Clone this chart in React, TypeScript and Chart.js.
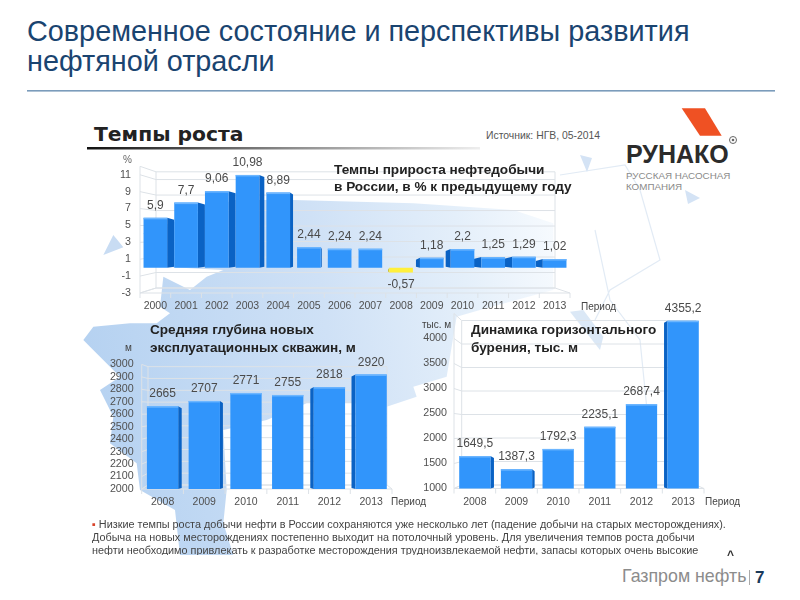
import React, { useEffect, useRef } from "react";
import { Chart, registerables } from "chart.js";

Chart.register(...registerables);

const growthYears = ["2000","2001","2002","2003","2004","2005","2006","2007","2008","2009","2010","2011","2012","2013"];
const growthValues = [5.9,7.7,9.06,10.98,8.89,2.44,2.24,2.24,-0.57,1.18,2.2,1.25,1.29,1.02];
const growthTicks = [-3,-1,1,3,5,7,9,11];
const depthYears = ["2008","2009","2010","2011","2012","2013"];
const depthValues = [2665,2707,2771,2755,2818,2920];
const depthTicks = [2000,2100,2200,2300,2400,2500,2600,2700,2800,2900,3000];
const horizontalYears = ["2008","2009","2010","2011","2012","2013"];
const horizontalValues = [1649.5,1387.3,1792.3,2235.1,2687.4,4355.2];
const horizontalTicks = [1000,1500,2000,2500,3000,3500,4000];

const growthSides = [7,7,7,5,3,1,0,0,-1,-4,-5,-8,-8,-7];
const depthSides = [3.5,3,0,0,-3.5,-4];
const horizontalSides = [3.5,2.5,0,0,0,-3.5];

const FONT = "'Liberation Sans', Arial, sans-serif";
const GRID = "#dde2e7";

type Cfg = {
  sides: number[]; backLeft: number; backRight: number; backBottom: number; k: number; labelGap: number;
};

function make3d(cfg: Cfg) {
  return {
    id: "pseudo3d",
    beforeDatasetsDraw(chart: any) {
      const ctx = chart.ctx;
      const { left, right, bottom } = chart.chartArea;
      const y = chart.scales.y;
      const ox = chart.canvas.offsetLeft || 0;
      const oy = chart.canvas.offsetTop || 0;
      const backBottom = cfg.backBottom - oy;
      const back = (p: number) => backBottom + (p - bottom) * cfg.k;
      ctx.save();
      ctx.strokeStyle = GRID;
      ctx.lineWidth = 1;
      const vals = y.ticks.map((t: any) => t.value);
      if (!vals.includes(y.max)) vals.push(y.max);
      vals.forEach((v: number) => {
        const p = y.getPixelForValue(v);
        ctx.beginPath();
        ctx.moveTo(left, p);
        ctx.lineTo(cfg.backLeft - ox, back(p));
        ctx.lineTo(cfg.backRight - ox, back(p));
        ctx.stroke();
      });
      const topP = y.getPixelForValue(y.max);
      ctx.beginPath();
      ctx.moveTo(left, topP);
      ctx.lineTo(left, bottom);
      ctx.lineTo(right, bottom);
      ctx.lineTo(cfg.backRight - ox, backBottom);
      ctx.lineTo(cfg.backRight - ox, back(topP));
      ctx.moveTo(cfg.backLeft - ox, backBottom);
      ctx.lineTo(cfg.backLeft - ox, back(topP));
      ctx.moveTo(left, bottom);
      ctx.lineTo(cfg.backLeft - ox, backBottom);
      ctx.lineTo(cfg.backRight - ox, backBottom);
      ctx.stroke();
      const xs = chart.scales.x;
      const step = (right - left) / xs.ticks.length;
      for (let i = 0; i <= xs.ticks.length; i++) {
        ctx.beginPath();
        ctx.moveTo(left + step * i, bottom);
        ctx.lineTo(left + step * i, bottom + 5);
        ctx.stroke();
      }
      const meta = chart.getDatasetMeta(0);
      meta.data.forEach((el: any, i: number) => {
        const d = cfg.sides[i];
        if (!d) return;
        const hw = el.width / 2;
        const edge = d > 0 ? el.x + hw : el.x - hw;
        const elBase = Math.min(el.base, bottom);
        const top = Math.min(el.y, elBase);
        const base = Math.max(el.y, elBase);
        const neg = el.y > elBase;
        ctx.fillStyle = neg ? "#c9b800" : "#0a62c4";
        ctx.beginPath();
        ctx.moveTo(edge, top);
        ctx.lineTo(edge + d, top + 2);
        ctx.lineTo(edge + d, base - 1);
        ctx.lineTo(edge, base);
        ctx.closePath();
        ctx.fill();
      });
      ctx.restore();
    },
    afterDatasetsDraw(chart: any) {
      const ctx = chart.ctx;
      const meta = chart.getDatasetMeta(0);
      const values = chart.data.datasets[0].data;
      ctx.save();
      ctx.font = "12px " + FONT;
      ctx.textAlign = "center";
      ctx.textBaseline = "middle";
      meta.data.forEach((el: any, i: number) => {
        const v = values[i];
        const neg = v < 0;
        if (!neg) {
          ctx.fillStyle = "#6db6ff";
          ctx.fillRect(el.x - el.width / 2, el.y, el.width, 1.5);
        }
        ctx.fillStyle = "#4a4a4a";
        ctx.fillText(String(v).replace(".", ","), el.x, neg ? el.y + cfg.labelGap : el.y - cfg.labelGap);
      });
      ctx.restore();
    },
  };
}

function makeChart(
  canvas: HTMLCanvasElement, labels: string[], values: number[], tickValues: number[], cfg: Cfg,
  o: { min: number; max: number; yWidth: number; xHeight: number; padTop: number; ratio: number; yPad: number }
) {
  return new Chart(canvas, {
    type: "bar",
    data: {
      labels,
      datasets: [{
        data: values,
        backgroundColor: values.map((v) => (v < 0 ? "#fff03c" : "#3195fb")),
        barPercentage: o.ratio,
        categoryPercentage: 1,
      }],
    },
    plugins: [make3d(cfg)],
    options: {
      animation: false,
      responsive: false,
      layout: { padding: { top: o.padTop, right: 10, left: 0, bottom: 0 } },
      plugins: { legend: { display: false }, title: { display: false }, tooltip: { enabled: false } },
      scales: {
        x: {
          grid: { display: false, drawTicks: false },
          border: { display: false },
          ticks: { color: "#505050", font: { size: 10.5, family: FONT }, padding: 7, maxRotation: 0, autoSkip: false },
          afterFit(s: any) { s.height = o.xHeight; },
        },
        y: {
          min: o.min,
          max: o.max,
          grid: { display: false, drawTicks: false },
          border: { display: false },
          ticks: {
            color: "#505050",
            padding: o.yPad,
            autoSkip: false,
            font: { size: 10.7, family: FONT },
            callback: (v: any) => String(v),
          },
          afterBuildTicks(s: any) { s.ticks = tickValues.map((value) => ({ value })); },
          afterFit(s: any) { s.width = o.yWidth; },
        },
      },
    } as any,
  });
}

function T(p: { x: number; y: number; s: number; c?: string; b?: boolean; f?: string; children: React.ReactNode }) {
  return (
    <div style={{
      position: "absolute", left: p.x, top: p.y, transform: "translateY(-50%)", fontSize: p.s, color: p.c || "#333",
      fontWeight: p.b ? 700 : 400, fontFamily: p.f || FONT, whiteSpace: "nowrap", lineHeight: 1,
    }}>{p.children}</div>
  );
}

export default function App() {
  const a = useRef<HTMLCanvasElement>(null);
  const b = useRef<HTMLCanvasElement>(null);
  const c = useRef<HTMLCanvasElement>(null);
  useEffect(() => {
    const ch1 = makeChart(a.current!, growthYears, growthValues, growthTicks,
      { sides: growthSides, backLeft: 156, backRight: 555, backBottom: 288, k: 0.917, labelGap: 12 },
      { min: -3, max: 12, yWidth: 50, xHeight: 32, padTop: 16.3, ratio: 0.77, yPad: 9 });
    const ch2 = makeChart(b.current!, depthYears, depthValues, depthTicks,
      { sides: depthSides, backLeft: 148, backRight: 387, backBottom: 485, k: 0.95, labelGap: 12 },
      { min: 2000, max: 3000, yWidth: 49.7, xHeight: 31, padTop: 14, ratio: 0.75, yPad: 8 });
    const ch3 = makeChart(c.current!, horizontalYears, horizontalValues, horizontalTicks,
      { sides: horizontalSides, backLeft: 461.7, backRight: 696, backBottom: 485, k: 0.94, labelGap: 12 },
      { min: 1000, max: 4500, yWidth: 50, xHeight: 31.5, padTop: 13.5, ratio: 0.75, yPad: 7 });
    return () => { ch1.destroy(); ch2.destroy(); ch3.destroy(); };
  }, []);
  const cv = (left: number, top: number): React.CSSProperties => ({ position: "absolute", left, top });
  return (
    <div style={{ position: "absolute", left: 0, top: 0, width: 800, height: 600, overflow: "hidden", background: "#fff", fontFamily: FONT, filter: "blur(0.4px)" }}>
      <svg width={800} height={600} style={{ position: "absolute", left: 0, top: 0 }}>
        <defs>
          <linearGradient id="m" x1="0" x2="1420" y1="300" y2="100" gradientUnits="userSpaceOnUse">
            <stop offset="0" stopColor="#b6d2f1" />
            <stop offset="0.5" stopColor="#cfe1f6" />
            <stop offset="0.8" stopColor="#e4effa" />
            <stop offset="1" stopColor="#f6fafe" />
          </linearGradient>
          <linearGradient id="u" x1="87" x2="480" y1="0" y2="0" gradientUnits="userSpaceOnUse">
            <stop offset="0" stopColor="#111" />
            <stop offset="0.5" stopColor="#888" />
            <stop offset="1" stopColor="#eee" />
          </linearGradient>
        </defs>
        <g transform="translate(80,190) scale(0.33333)">
          <path fill="url(#m)" d="M640 30 L1000 40 L1300 60 L1420 100 L1420 300 L1200 360 L1130 380 L1100 560 L1000 590 L1010 620 L920 650 L820 640 L680 640 L560 690 L430 720 L440 900 L430 1000 L460 1095 L300 1095 L285 960 L180 900 L170 820 L90 760 L100 680 L60 600 L120 560 L30 470 L10 450 L40 410 L150 400 L230 400 L270 370 L240 350 L250 260 L330 300 L380 260 L430 240 L250 230 L190 130 L460 30 Z" />
          <path fill="#c8dcf3" d="M70 195 L100 135 L130 172 Z" />
          <path fill="#dbe8f6" d="M1470 365 L1510 360 L1570 440 L1560 480 Z" />
        </g>
        <path fill="none" stroke="#e2ebf5" strokeWidth="1.2" d="M560 175 L625 165 L640 190 L660 260 L610 290 L595 320 M595 230 L610 300 L640 340 L650 440" />
        <path fill="#d4e3f5" d="M580 155 L592 158 L587 172 Z M685 190 L700 198 L688 204 Z" />
        <rect x="87" y="147" width="393" height="2.5" fill="url(#u)" />
        <polygon fill="#ef5123" points="681.7,108.3 705,108.3 721.7,135.7 700,135.7" />
        <circle cx="733" cy="140" r="3.5" fill="none" stroke="#666" strokeWidth="1" />
        <circle cx="733" cy="140" r="1.3" fill="#666" />
        <rect x="27" y="90" width="748" height="1.6" fill="#7b9cbb" />
      </svg>

      <T x={27} y={31} s={28.8} c="#1a4470">Современное состояние и перспективы развития</T>
      <T x={27} y={61} s={28.8} c="#1a4470">нефтяной отрасли</T>

      <T x={94} y={134} s={20.3} b c="#222" f="'DejaVu Sans', sans-serif">Темпы роста</T>
      <T x={486} y={136} s={10.4} c="#555">Источник: НГВ, 05-2014</T>

      <T x={626} y={154} s={25} b c="#2b2b2b">РУНАКО</T>
      <T x={626} y={176} s={9.8} c="#8a8a8a">РУССКАЯ НАСОСНАЯ</T>
      <T x={626} y={187} s={9.8} c="#8a8a8a">КОМПАНИЯ</T>

      <canvas ref={a} width={490} height={175} style={cv(90, 150)} />
      <canvas ref={b} width={310} height={170} style={cv(92, 350)} />
      <canvas ref={c} width={310} height={220} style={cv(404, 300)} />

      <T x={334} y={170} s={13.6} b c="#222">Темпы прироста нефтедобычи</T>
      <T x={334} y={187} s={13.6} b c="#222">в России, в % к предыдущему году</T>
      <T x={150} y={330} s={13.6} b c="#222">Средняя глубина новых</T>
      <T x={150} y={348} s={13.6} b c="#222">эксплуатационных скважин, м</T>
      <T x={471} y={330} s={13.6} b c="#222">Динамика горизонтального</T>
      <T x={471} y={348} s={13.6} b c="#222">бурения, тыс. м</T>

      <T x={123} y={160} s={10} c="#666">%</T>
      <T x={125} y={348} s={10} c="#444">м</T>
      <T x={422} y={325} s={10} c="#444">тыс. м</T>
      <T x={581} y={307} s={10} c="#444">Период</T>
      <T x={391} y={502} s={10} c="#444">Период</T>
      <T x={705} y={502} s={10} c="#444">Период</T>

      <div style={{ position: "absolute", left: 92, top: 518, width: 660, height: 37, overflow: "hidden", fontSize: 10.85, lineHeight: "13.2px", color: "#444", whiteSpace: "nowrap" }}>
        <div><span style={{ color: "#d8432a" }}>▪</span> Низкие темпы роста добычи нефти в России сохраняются уже несколько лет (падение добычи на старых месторождениях).</div>
        <div>Добыча на новых месторождениях постепенно выходит на потолочный уровень. Для увеличения темпов роста добычи</div>
        <div>нефти необходимо привлекать к разработке месторождения трудноизвлекаемой нефти, запасы которых очень высокие</div>
      </div>
      <T x={727} y={555} s={12} b c="#333">^</T>

      <T x={622} y={577} s={17.8} c="#8c8c8c">Газпром нефть</T>
      <div style={{ position: "absolute", left: 749, top: 570, width: 1, height: 15, background: "#aaa" }} />
      <T x={755} y={577} s={17} b c="#1a3a5a">7</T>
    </div>
  );
}
